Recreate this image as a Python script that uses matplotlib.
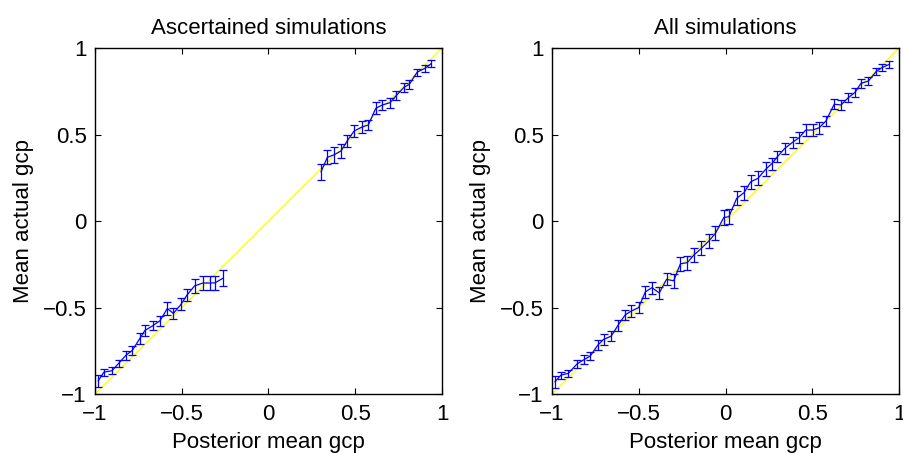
import numpy as np
import matplotlib
matplotlib.use("Agg")
import matplotlib.pyplot as plt

plt.rcParams['font.family'] = ['Liberation Sans', 'DejaVu Sans']
plt.rcParams['font.size'] = 16

# Ascertained simulations (two clusters)
asc_x_neg = [-0.981, -0.948, -0.902, -0.862, -0.821, -0.785, -0.741, -0.712, -0.667, -0.625,
             -0.583, -0.548, -0.503, -0.470, -0.426, -0.378, -0.337, -0.308, -0.262]
asc_y_neg = [-0.923, -0.873, -0.865, -0.821, -0.775, -0.748, -0.678, -0.632, -0.605, -0.576,
             -0.505, -0.534, -0.480, -0.428, -0.375, -0.358, -0.358, -0.357, -0.330]
asc_e_neg = [0.035, 0.02, 0.02, 0.02, 0.025, 0.025, 0.03, 0.03, 0.025, 0.03,
             0.035, 0.03, 0.035, 0.035, 0.04, 0.04, 0.04, 0.04, 0.045]

asc_x_pos = [0.303, 0.339, 0.378, 0.418, 0.454, 0.493, 0.537, 0.575, 0.618, 0.656,
             0.700, 0.735, 0.781, 0.811, 0.857, 0.902, 0.935]
asc_y_pos = [0.285, 0.368, 0.383, 0.405, 0.464, 0.520, 0.543, 0.555, 0.651, 0.671,
             0.684, 0.724, 0.773, 0.790, 0.861, 0.883, 0.908]
asc_e_pos = [0.045, 0.04, 0.045, 0.04, 0.035, 0.035, 0.035, 0.03, 0.035, 0.03,
             0.03, 0.025, 0.025, 0.025, 0.02, 0.02, 0.02]

# All simulations
all_x = [-0.983, -0.948, -0.906, -0.857, -0.813, -0.780, -0.736, -0.703, -0.659, -0.620,
         -0.578, -0.543, -0.501, -0.462, -0.424, -0.382, -0.340, -0.299, -0.260, -0.220,
         -0.183, -0.140, -0.097, -0.058, -0.010, 0.019, 0.064, 0.106, 0.145, 0.187,
         0.231, 0.265, 0.299, 0.341, 0.386, 0.424, 0.462, 0.501, 0.539, 0.578,
         0.626, 0.665, 0.707, 0.746, 0.780, 0.823, 0.867, 0.900, 0.944]
all_y = [-0.929, -0.890, -0.880, -0.827, -0.799, -0.780, -0.717, -0.684, -0.665, -0.603,
         -0.542, -0.520, -0.500, -0.409, -0.385, -0.415, -0.337, -0.345, -0.247, -0.240,
         -0.197, -0.158, -0.116, -0.071, 0.021, 0.025, 0.131, 0.164, 0.227, 0.247,
         0.299, 0.330, 0.372, 0.420, 0.455, 0.482, 0.526, 0.526, 0.539, 0.578,
         0.675, 0.671, 0.713, 0.744, 0.796, 0.809, 0.863, 0.886, 0.906]
all_e = [0.033, 0.02, 0.02, 0.025, 0.025, 0.025, 0.03, 0.03, 0.03, 0.03,
         0.03, 0.035, 0.03, 0.035, 0.035, 0.035, 0.035, 0.04, 0.04, 0.04,
         0.04, 0.04, 0.04, 0.04, 0.043, 0.043, 0.04, 0.04, 0.04, 0.04,
         0.04, 0.035, 0.03, 0.03, 0.03, 0.03, 0.035, 0.035, 0.035, 0.03,
         0.03, 0.03, 0.025, 0.025, 0.025, 0.025, 0.02, 0.02, 0.02]

ticks = [-1, -0.5, 0, 0.5, 1]
tick_labels = ['\u22121', '\u22120.5', '0', '0.5', '1']


def style_axes(ax, title):
    ax.plot([-1, 1], [-1, 1], color='#ffff00', lw=1, zorder=1)
    ax.set_xlim(-1, 1)
    ax.set_ylim(-1, 1)
    ax.set_xticks(ticks)
    ax.set_yticks(ticks)
    ax.set_xticklabels(tick_labels)
    ax.set_yticklabels(tick_labels)
    ax.tick_params(direction='in', top=True, right=True, length=4, width=0.8)
    ax.tick_params(axis='x', pad=7)
    ax.tick_params(axis='y', pad=6)
    for s in ax.spines.values():
        s.set_linewidth(1)
    ax.set_xlabel('Posterior mean gcp', labelpad=5)
    ax.set_ylabel('Mean actual gcp', labelpad=6)
    ax.set_title(title, pad=10, fontsize=16)


fig = plt.figure(figsize=(9.04, 4.53), dpi=100)
ax1 = fig.add_axes([0.105, 0.130, 0.384, 0.764])
ax2 = fig.add_axes([0.6106, 0.130, 0.384, 0.764])

for xs, ys, es in [(asc_x_neg, asc_y_neg, asc_e_neg), (asc_x_pos, asc_y_pos, asc_e_pos)]:
    ax1.errorbar(xs, ys, yerr=es, color='#0000ff', lw=0.9, elinewidth=0.9,
                 capsize=3, capthick=0.9, zorder=2)
style_axes(ax1, 'Ascertained simulations')

ax2.errorbar(all_x, all_y, yerr=all_e, color='#0000ff', lw=0.9, elinewidth=0.9,
             capsize=3, capthick=0.9, zorder=2)
style_axes(ax2, 'All simulations')

fig.savefig('out.png', dpi=100)
